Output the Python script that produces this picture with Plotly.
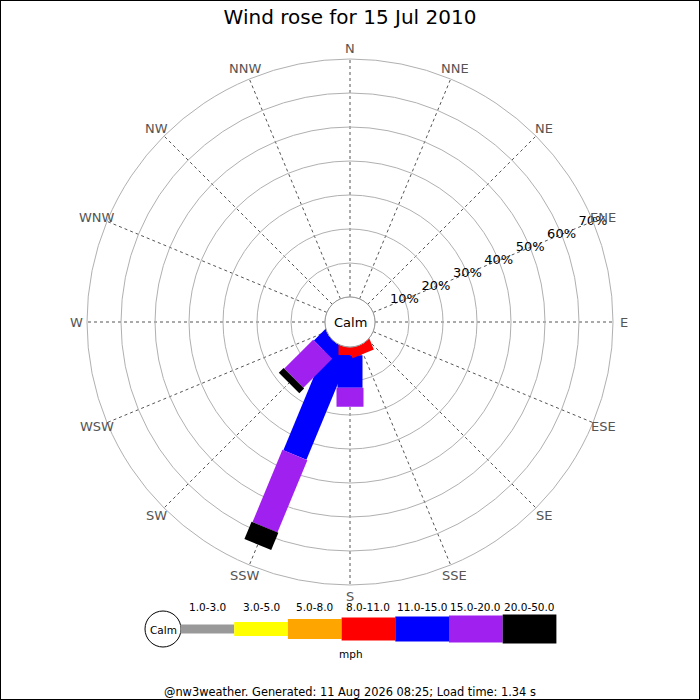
import math
import plotly.graph_objects as go

# data
title = 'Wind rose for 15 Jul 2010'
directions = ['N', 'NNE', 'NE', 'ENE', 'E', 'ESE', 'SE', 'SSE',
              'S', 'SSW', 'SW', 'WSW', 'W', 'WNW', 'NW', 'NNW']
speed_bins = ['1.0-3.0', '3.0-5.0', '5.0-8.0', '8.0-11.0',
              '11.0-15.0', '15.0-20.0', '20.0-50.0']
bin_colors = ['#999999', '#ffff00', '#ffa500', '#ff0000',
              '#0000ff', '#a020f0', '#000000']
bin_widths = [9, 14, 20, 23, 25, 27, 29]  # bar thickness in px

# % of the day per direction, one list per speed bin
pct_1_3 = [0, 0, 0, 0, 0, 0, 0, 0, 0, 0, 0, 0, 0, 0, 0, 0]
pct_3_5 = [0, 0, 0, 0, 0, 0, 0, 0, 0, 0, 0, 0, 0, 0, 0, 0]
pct_5_8 = [0, 0, 0, 0, 0, 0, 0, 0, 0, 0, 0, 0, 0, 0, 0, 0]
pct_8_11 = [0, 0, 0, 0, 0, 0, 0, 2.8, 2.4, 0, 0, 0, 0, 0, 0, 0]
pct_11_15 = [0, 0, 0, 0, 0, 0, 0, 0, 9.6, 35, 4, 0, 0, 0, 0, 0]
pct_15_20 = [0, 0, 0, 0, 0, 0, 0, 0, 5.6, 23, 12, 0, 0, 0, 0, 0]
pct_20_50 = [0, 0, 0, 0, 0, 0, 0, 0, 0, 5.5, 2, 0, 0, 0, 0, 0]
series = [pct_1_3, pct_3_5, pct_5_8, pct_8_11, pct_11_15, pct_15_20, pct_20_50]

radial_ticks = [10, 20, 30, 40, 50, 60, 70]
footer = '@nw3weather. Generated: 11 Aug 2026 08:25; Load time: 1.34 s'

# layout geometry (pixels)
W = H = 700
CX, CY = 350, 322
R_OUT = 263
R_CALM = 25
R_LABEL = 274
PX = (R_OUT - R_CALM) / radial_ticks[-1]
FONT = 'DejaVu Sans'


def px_x(x):
    return x / W


def px_y(y):
    return 1 - y / H


def corner(d, off, theta):
    # point of a straight bar in polar coords (data units)
    r = math.hypot(d, off)
    return (r - R_CALM) / PX, theta + math.degrees(math.atan2(off, d))


fig = go.Figure()

# longest bars first so the short ones sit on top
totals = [sum(s[i] for s in series) for i in range(len(directions))]
order = sorted(range(len(directions)), key=lambda i: -totals[i])

for i in order:
    theta = i * 22.5
    cum = 0
    for b, vals in enumerate(series):
        v = vals[i]
        if v <= 0:
            continue
        h = bin_widths[b] / 2
        d1 = R_CALM + cum * PX if cum > 0 else math.sqrt(R_CALM ** 2 - h ** 2)
        d2 = R_CALM + (cum + v) * PX
        pts = [corner(d1, -h, theta), corner(d2, -h, theta),
               corner(d2, h, theta), corner(d1, h, theta), corner(d1, -h, theta)]
        fig.add_trace(go.Scatterpolar(
            r=[p[0] for p in pts], theta=[p[1] for p in pts],
            mode='lines', fill='toself', fillcolor=bin_colors[b],
            line=dict(width=0, color=bin_colors[b]),
            hoverinfo='skip', showlegend=False))
        cum += v

# radial % labels along ENE
fig.add_trace(go.Scatterpolar(
    r=radial_ticks, theta=[67.5] * len(radial_ticks),
    mode='text', text=[f'{t}%' for t in radial_ticks],
    textfont=dict(family=FONT, size=13, color='black'),
    hoverinfo='skip', showlegend=False))

fig.update_layout(
    width=W, height=H,
    margin=dict(l=0, r=0, t=0, b=0),
    paper_bgcolor='white',
    font=dict(family=FONT),
    title=dict(text=title, x=0.5, xanchor='center', y=px_y(17), yanchor='middle',
               font=dict(family=FONT, size=20, color='black')),
    polar=dict(
        domain=dict(x=[px_x(CX - R_OUT), px_x(CX + R_OUT)],
                    y=[px_y(CY + R_OUT), px_y(CY - R_OUT)]),
        hole=R_CALM / R_OUT,
        bgcolor='white',
        radialaxis=dict(range=[0, radial_ticks[-1]], tickvals=radial_ticks,
                        showticklabels=False, ticks='', showline=False,
                        gridcolor='#b0b0b0', gridwidth=1),
        angularaxis=dict(rotation=90, direction='clockwise',
                         tickvals=[i * 22.5 for i in range(16)],
                         showticklabels=False,
                         ticks='', showline=True, linecolor='#b0b0b0', linewidth=1,
                         gridcolor='#555555', griddash='dot', gridwidth=1),
    ),
)

shapes = []
ann = []


def label(text, x, y, size, color='black'):
    ann.append(dict(text=text, x=px_x(x), y=px_y(y), xref='paper', yref='paper',
                    xanchor='center', yanchor='middle', showarrow=False,
                    font=dict(family=FONT, size=size, color=color)))


# compass labels centred just outside the outer ring
for i, name in enumerate(directions):
    a = math.radians(i * 22.5)
    label(name, CX + R_LABEL * math.sin(a), CY - R_LABEL * math.cos(a), 13, '#555555')

# calm circle in the middle
shapes.append(dict(type='circle', xref='paper', yref='paper',
                   x0=px_x(CX - R_CALM), x1=px_x(CX + R_CALM),
                   y0=px_y(CY + R_CALM), y1=px_y(CY - R_CALM),
                   fillcolor='white', line=dict(color='#999999', width=1)))
label('Calm', CX, CY, 13)

# legend
LX, LY, STEP = 180.5, 629, 53.7
shapes.append(dict(type='circle', xref='paper', yref='paper',
                   x0=px_x(145), x1=px_x(181), y0=px_y(LY + 18), y1=px_y(LY - 18),
                   fillcolor='white', line=dict(color='black', width=1)))
label('Calm', 163, LY + 1, 10.5)
for b, lab in enumerate(speed_bins):
    x0 = LX + b * STEP
    h = bin_widths[b] / 2
    shapes.append(dict(type='rect', xref='paper', yref='paper',
                       x0=px_x(x0), x1=px_x(x0 + STEP),
                       y0=px_y(LY + h), y1=px_y(LY - h),
                       fillcolor=bin_colors[b], line=dict(width=0)))
    label(lab, x0 + STEP / 2, 607, 10.5)
label('mph', 351, 654, 10.5)
label(footer, 350, 692, 11.4)

# frame
shapes.append(dict(type='rect', xref='paper', yref='paper', x0=0, x1=1, y0=0, y1=1,
                   line=dict(color='black', width=2)))

fig.update_layout(shapes=shapes, annotations=ann)

fig.write_html("out.html", config={'displayModeBar': False},
               post_script="document.body.style.margin='0';document.body.style.overflow='hidden';")
